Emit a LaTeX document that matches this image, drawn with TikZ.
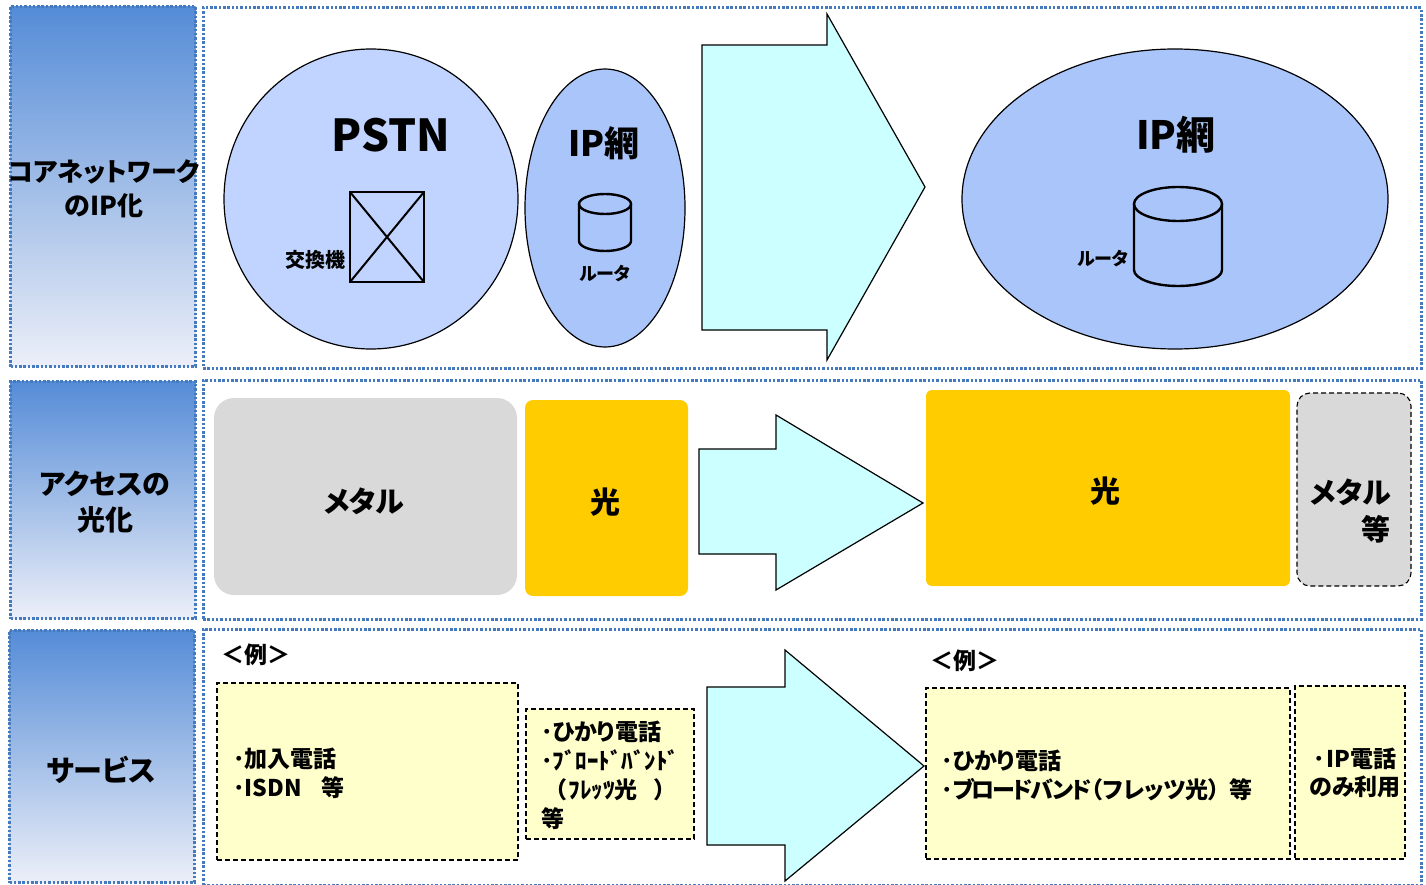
\documentclass[tikz,border=0pt]{standalone}
\usepackage{fontspec}
\setmainfont{Noto Sans CJK JP}[BoldFont={Noto Sans CJK JP Black},RawFeature={+palt}]
\usetikzlibrary{shapes.geometric}
\definecolor{bandtop}{RGB}{85,140,215}
\definecolor{bandbot}{RGB}{236,239,248}
\definecolor{rimblue}{RGB}{70,122,190}
\definecolor{pstnblue}{RGB}{192,212,255}
\definecolor{ipblue}{RGB}{170,197,250}
\definecolor{paleaqua}{RGB}{204,255,255}
\definecolor{paleyellow}{RGB}{255,255,204}
\definecolor{lightorange}{RGB}{255,204,0}
\definecolor{metalgrey}{RGB}{217,217,217}
\tikzset{
	sz/.style 2 args={minimum width=#1pt, minimum height=#2pt, inner sep=0pt, outer sep=0pt},
	rim/.style={draw=rimblue, line width=3pt, dash pattern=on 2.5pt off 1.8pt},
	band/.style={rim, top color=bandtop, bottom color=bandbot},
	cloud/.style={draw, ellipse, line width=1.2pt},
	bigarrow/.style={draw, fill=paleaqua, line width=1.2pt},
	dashbox/.style={draw, line width=1.1pt, dash pattern=on 5pt off 3pt},
	drum/.style={draw, line width=2.4pt},
	txt/.style={inner sep=0pt, font=\bfseries\fontsize{#1}{#1}\selectfont},
	txtl/.style={inner sep=0pt, anchor=west, align=left, font=\bfseries\fontsize{23}{29}\selectfont}
}
\begin{document}
\begin{tikzpicture}[x=1pt, y=-1pt]
	\useasboundingbox (0,0) rectangle (1426,885);
	\node (panelcore) [rim, sz={1218}{360}] at (812,188) {};
	\node (panelaccess) [rim, sz={1218}{239}] at (812,499.5) {};
	\node (panelservice) [rim, sz={1218}{256}] at (812,757) {};
	\node (bandcore) [band, sz={185}{360}] at (103,186.5) {};
	\node (bandaccess) [band, sz={185}{237}] at (103,500) {};
	\node (bandservice) [band, sz={185}{252}] at (102,756.5) {};
	\node (labelcore) [txt=26, align=center] at (104,189) {コアネットワーク\\[8pt]のIP化};
	\node (labelaccess) [txt=28, align=center] at (105,502) {アクセスの\\[8pt]光化};
	\node (labelservice) [txt=29] at (101,770) {サービス};

	\node (pstn) [cloud, fill=pstnblue, sz={294}{300}] at (371,199) {};
	\node (ipsmall) [cloud, fill=ipblue, sz={160}{278}] at (605,208) {};
	\node (ipbig) [cloud, fill=ipblue, sz={426}{300}] at (1175,199) {};
	\node (pstnlabel) [txt=44] at (391,135) {PSTN};
	\node (ipsmalllabel) [txt=35] at (604,143) {IP網};
	\node (ipbiglabel) [txt=39] at (1176,135) {IP網};
	\node (exchange) [draw, line width=2.4pt, sz={74}{90}] at (387,237) {};
	\draw[line width=2pt] (exchange.north west) -- (exchange.south east);
	\draw[line width=2pt] (exchange.north east) -- (exchange.south west);
	\node (exchangelabel) [txt=20] at (315,260) {交換機};
	\draw[drum] (605,204) ellipse [x radius=26pt, y radius=10pt];
	\draw[drum] (579,204) -- (579,241) arc [start angle=180, end angle=360, x radius=26pt, y radius=10pt] -- (631,204);
	\node (routersmalllabel) [txt=18] at (605,274) {ルータ};
	\draw[drum] (1178,204) ellipse [x radius=44pt, y radius=17pt];
	\draw[drum] (1134,204) -- (1134,270) arc [start angle=180, end angle=360, x radius=44pt, y radius=16pt] -- (1222,204);
	\node (routerbiglabel) [txt=18] at (1103,259) {ルータ};

	\draw[bigarrow] (702,45) -- (827,45) -- (827,14) -- (925,187) -- (827,360) -- (827,330) -- (702,330) -- cycle;
	\draw[bigarrow] (699,449) -- (776,449) -- (776,415) -- (923,503) -- (776,590) -- (776,554) -- (699,554) -- cycle;
	\draw[bigarrow] (707,687) -- (785,687) -- (785,650) -- (924,766) -- (785,881) -- (785,845) -- (707,845) -- cycle;

	\node (metalold) [fill=metalgrey, rounded corners=20pt, sz={303}{197}] at (365.5,496.5) {};
	\node (fiberold) [fill=lightorange, rounded corners=8pt, sz={163}{196}] at (606.5,498) {};
	\node (fibernew) [fill=lightorange, rounded corners=6pt, sz={364}{196}] at (1108,488) {};
	\node (metalnew) [dashbox, fill=metalgrey, rounded corners=13pt, sz={114}{193}] at (1354,489.5) {};
	\node (metaloldlabel) [txt=29] at (364,501) {メタル};
	\node (fiberoldlabel) [txt=30] at (605,502) {光};
	\node (fibernewlabel) [txt=30] at (1105,491) {光};
	\node (metalnewlabel) [txt=29, align=right, anchor=east] at (1391,511) {メタル\\[8pt]等};

	\node (exampleold) [txt=23] at (256,655) {＜例＞};
	\node (examplenew) [txt=23] at (965,661) {＜例＞};
	\node (serviceold) [dashbox, fill=paleyellow, sz={301}{177}] at (367.5,771.5) {};
	\node (servicemid) [dashbox, fill=paleyellow, sz={168}{130}] at (610,774) {};
	\node (servicenew) [dashbox, fill=paleyellow, sz={364}{171}] at (1108,773.5) {};
	\node (serviceip) [dashbox, fill=paleyellow, sz={110}{173}] at (1350,772.5) {};
	\node (serviceoldtext) [txtl] at (233,773) {･加入電話\\･ISDN\hspace{20pt}等};
	\node (servicemidtext) [txtl] at (541,775) {･ひかり電話\\･ﾌﾞﾛｰﾄﾞﾊﾞﾝﾄﾞ\\\hspace{14pt}（\hspace{2pt}ﾌﾚｯﾂ光\hspace{17pt}）\\等};
	\node (servicenewtext) [txtl] at (941,775) {･ひかり電話\\･{\addfontfeature{LetterSpace=-10}ブロードバンド}（フレッツ光）\hspace{9pt}等};
	\node (serviceiptext) [txt=23, align=center] at (1355,773) {･\hspace{2pt}IP電話\hspace{7pt}\\[5pt]のみ利用};
\end{tikzpicture}
\end{document}
